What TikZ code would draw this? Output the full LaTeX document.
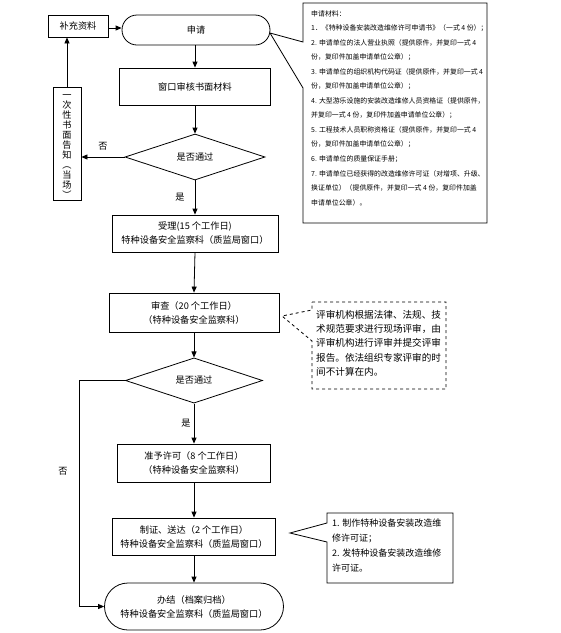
\documentclass[tikz,border=0pt]{standalone}
\usepackage{fontspec}
\setmainfont{Noto Sans CJK SC}
\usetikzlibrary{shapes.geometric,arrows.meta}
\begin{document}
\begin{tikzpicture}[x=1pt,y=-1pt,
  mainfont/.style={font=\fontsize{9.2}{14}\selectfont},
  box/.style n args={2}{draw,line width=0.8pt,minimum width=#1,minimum height=#2,inner sep=0pt,align=center,mainfont},
  term/.style n args={2}{draw,line width=0.8pt,minimum width=#1,minimum height=#2,inner sep=0pt,align=center,rounded corners=#2/2,mainfont},
  dia/.style n args={2}{draw,diamond,line width=0.8pt,minimum width=#1,minimum height=#2,inner sep=0pt,align=center,mainfont},
  arr/.style={line width=0.8pt,-{Triangle[length=6pt,width=5pt]}},
  lbl/.style={inner sep=0pt,mainfont},
  callout/.style={line width=0.8pt},
  ctext/.style={anchor=north west,inner sep=0pt,align=left},
]
\useasboundingbox (0,0) rectangle (561,633);

% left column
\node[box={60pt}{22pt}] (bc) at (78,26) {补充资料};
\node[box={28pt}{113pt}] (vb) at (67,143.5) {};
\node[inner sep=0pt,align=center,font=\fontsize{9.2}{10}\selectfont] (vbt) at (67,147) {一\\次\\性\\书\\面\\告\\知\\︵\\当\\场\\︶};

% main column
\node[term={148pt}{30pt}] (sq) at (196,30) {申请};
\node[box={151pt}{37pt}] (ck) at (195,86.5) {\raisebox{-3pt}{窗口审核书面材料}};
\node[dia={140pt}{46pt}] (d1) at (195,157) {是否通过};
\node[box={166pt}{37pt}] (sl) at (195,233.5) {受理(15 个工作日)\\特种设备安全监察科（质监局窗口）};
\node[box={170pt}{39pt}] (sc) at (194,312.5) {审查（20 个工作日）\\（特种设备安全监察科）};
\node[dia={137pt}{45pt}] (d2) at (194,380.5) {是否通过};
\node[box={153pt}{38pt}] (zy) at (194,463) {准予许可（8 个工作日）\\（特种设备安全监察科）};
\node[box={163pt}{37pt}] (zz) at (194,536.5) {制证、送达（2 个工作日）\\特种设备安全监察科（质监局窗口）};
\node[term={179pt}{47pt}] (bj) at (194,606.5) {办结（档案归档）\\特种设备安全监察科（质监局窗口）};

% connectors
\draw[arr] (bc.east |- 0,28) -- (sq.west |- 0,28);
\draw[arr] (vb.north) -- (vb.north |- bc.south);
\draw[arr] (sq.south -| ck.north) -- (ck.north);
\draw[arr] (ck.south) -- (d1.north);
\draw[arr] (d1.west) -- (d1.west -| vb.east);
\draw[arr] (d1.south) -- (sl.north);
\draw[arr] (sl.south) -- (sc.north);
\draw[arr] (sc.south) -- (d2.north);
\draw[arr] (d2.south) -- (zy.north);
\draw[arr] (zy.south) -- (zz.north);
\draw[arr] (zz.south) -- (bj.north);
\coordinate (lc) at (79,380.5);
\draw[arr] (d2.west) -- (lc) |- (bj.west);

\node[lbl] (no1) at (103,146) {否};
\node[lbl] (yes1) at (180,197) {是};
\node[lbl] (yes2) at (186,423) {是};
\node[lbl] (no2) at (63,471) {否};

% callout 1
\coordinate (c1nw) at (303,3);
\coordinate (c1se) at (487,223);
\coordinate (c1tip) at (270,33);
\draw[callout] (c1nw) -- (c1se |- c1nw) -- (c1se) -- (c1nw |- c1se) -- (303,88) -- (c1tip) -- (303,42) -- cycle;
\node[ctext,font=\fontsize{6.9}{14.55}\selectfont] (c1t) at (311,10) {申请材料：\\
1．《特种设备安装改造维修许可申请书》（一式 4 份）；\\
2. 申请单位的法人营业执照（提供原件，并复印一式 4\\
份，复印件加盖申请单位公章）；\\
3. 申请单位的组织机构代码证（提供原件，并复印一式 4\\
份，复印件加盖申请单位公章）；\\
4. 大型游乐设施的安装改造维修人员资格证（提供原件，\\
并复印一式 4 份，复印件加盖申请单位公章）；\\
5. 工程技术人员职称资格证（提供原件，并复印一式 4\\
份，复印件加盖申请单位公章）；\\
6. 申请单位的质量保证手册；\\
7. 申请单位已经获得的改造维修许可证（对增项、升级、\\
换证单位）（提供原件，并复印一式 4 份，复印件加盖\\
申请单位公章）。};

% callout 2 (dashed)
\coordinate (c2nw) at (312,302);
\coordinate (c2se) at (446,389);
\coordinate (c2tip) at (282,316);
\draw[callout,dashed] (c2nw) -- (c2se |- c2nw) -- (c2se) -- (c2nw |- c2se) -- (312,341) -- (c2tip) -- (312,310) -- cycle;
\node[ctext,font=\fontsize{9.6}{14.3}\selectfont] (c2t) at (316,310) {评审机构根据法律、法规、技\\术规范要求进行现场评审，由\\评审机构进行评审并提交评审\\报告。依法组织专家评审的时\\间不计算在内。};

% callout 3
\coordinate (c3nw) at (327,513);
\coordinate (c3se) at (453,583);
\coordinate (c3tip) at (290,533);
\draw[callout] (c3nw) -- (c3se |- c3nw) -- (c3se) -- (c3nw |- c3se) -- (327,542) -- (c3tip) -- (327,523) -- cycle;
\node[ctext,font=\fontsize{9}{15}\selectfont] (c3t) at (332,519) {1. 制作特种设备安装改造维\\修许可证；\\2. 发特种设备安装改造维修\\许可证。};

\end{tikzpicture}
\end{document}
